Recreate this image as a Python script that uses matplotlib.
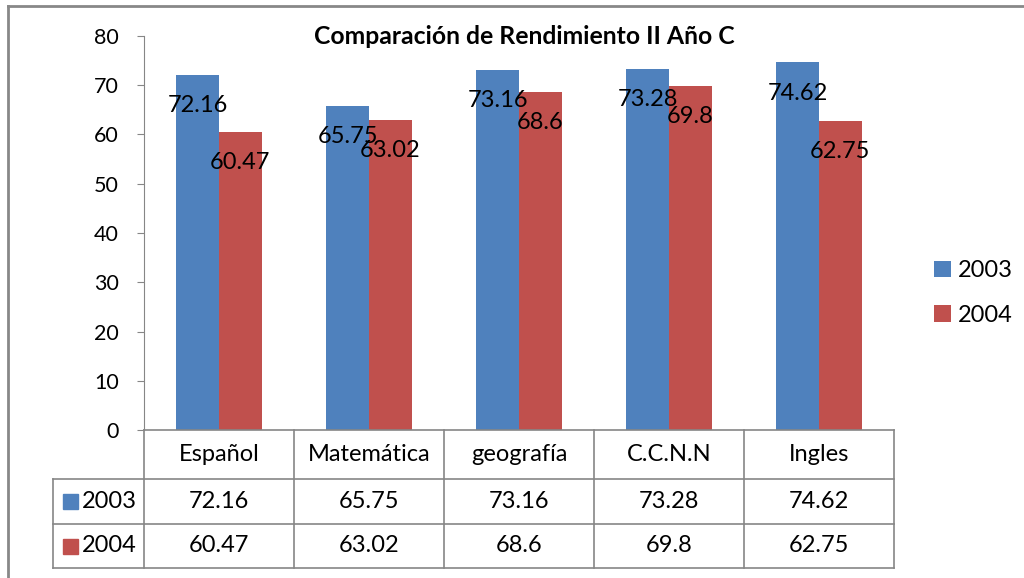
import matplotlib.pyplot as plt
import numpy as np
from matplotlib.lines import Line2D
from matplotlib.patches import Rectangle

plt.rcParams['font.family'] = ['Lato', 'DejaVu Sans']

categories = ['Español', 'Matemática', 'geografía', 'C.C.N.N', 'Ingles']
series_names = ['2003', '2004']
vals_2003 = [72.16, 65.75, 73.16, 73.28, 74.62]
vals_2004 = [60.47, 63.02, 68.6, 69.8, 62.75]
labels_2003 = ['72.16', '65.75', '73.16', '73.28', '74.62']
labels_2004 = ['60.47', '63.02', '68.6', '69.8', '62.75']
colors = ['#4F81BD', '#C0504D']
grey = '#868686'

W, H = 1024, 578
fig = plt.figure(figsize=(W / 100, H / 100), dpi=100)
ax = fig.add_axes([144 / W, (H - 430) / H, 750 / W, 394 / H])

x = np.arange(len(categories))
w = 0.285
series = [vals_2003, vals_2004]
texts = [labels_2003, labels_2004]
for i, (vals, lab) in enumerate(zip(series, texts)):
    xs = x + (i - 0.5) * w
    ax.bar(xs, vals, width=w, color=colors[i], label=series_names[i], zorder=2)
    for xi, v, t in zip(xs, vals, lab):
        ax.annotate(t, (xi, v), xytext=(0, -22), textcoords='offset points',
                    ha='center', va='center', fontsize=17, color='black', zorder=3)

ax.set_xlim(-0.5, len(categories) - 0.5)
ax.set_ylim(0, 80)
ax.set_yticks(range(0, 81, 10))
ax.set_xticks([])
for s in ['top', 'right', 'bottom']:
    ax.spines[s].set_visible(False)
ax.spines['left'].set_color(grey)
ax.tick_params(axis='y', length=5, color=grey, labelsize=15.5, pad=13)

ax.set_title('Comparación de Rendimiento II Año C', fontsize=17.8, fontweight='bold',
             x=(524 - 144) / 750, y=1 - 9 / 394, va='center')

# data table under the chart
tr = ax.get_xaxis_transform()
px = 1 / 394
y0, y1, y2, y3 = 0, -49 * px, -94 * px, -138 * px
xl = -0.5 - 91 / 150
xr = len(categories) - 0.5
kw = dict(transform=tr, color=grey, lw=1.2, clip_on=False)
ax.add_line(Line2D([-0.5, xr], [y0, y0], **kw))
for yy in [y1, y2, y3]:
    ax.add_line(Line2D([xl, xr], [yy, yy], **kw))
for xx in np.arange(-0.5, xr + 0.01, 1):
    ax.add_line(Line2D([xx, xx], [y0, y3], **kw))
ax.add_line(Line2D([xl, xl], [y1, y3], **kw))

for xi, c in zip(x, categories):
    ax.text(xi, (y0 + y1) / 2, c, transform=tr, ha='center', va='center', fontsize=17)
rows_y = [(y1 + y2) / 2, (y2 + y3) / 2]
for r, (vals, lab) in enumerate(zip(series, texts)):
    for xi, t in zip(x, lab):
        ax.text(xi, rows_y[r], t, transform=tr, ha='center', va='center', fontsize=17)
    ax.add_patch(Rectangle((xl + 10 / 150, rows_y[r] - 7.5 * px), 15 / 150, 15 * px,
                           transform=tr, color=colors[r], clip_on=False))
    ax.text(xl + 29 / 150, rows_y[r], series_names[r], transform=tr,
            ha='left', va='center', fontsize=17)

leg = fig.legend(loc='center left', bbox_to_anchor=(934 / W, (H - 293) / H),
                 frameon=False, fontsize=17, labelspacing=1.0, handlelength=0.7,
                 handleheight=0.7, handletextpad=0.3, borderpad=0, borderaxespad=0)

# outer chart frame
fig.add_artist(Line2D([8 / W, 1], [1 - 6 / H, 1 - 6 / H], color='#888888', lw=2,
                      transform=fig.transFigure))
fig.add_artist(Line2D([8 / W, 8 / W], [0, 1 - 6 / H], color='#888888', lw=2,
                      transform=fig.transFigure))

fig.savefig('out.png', dpi=100)
